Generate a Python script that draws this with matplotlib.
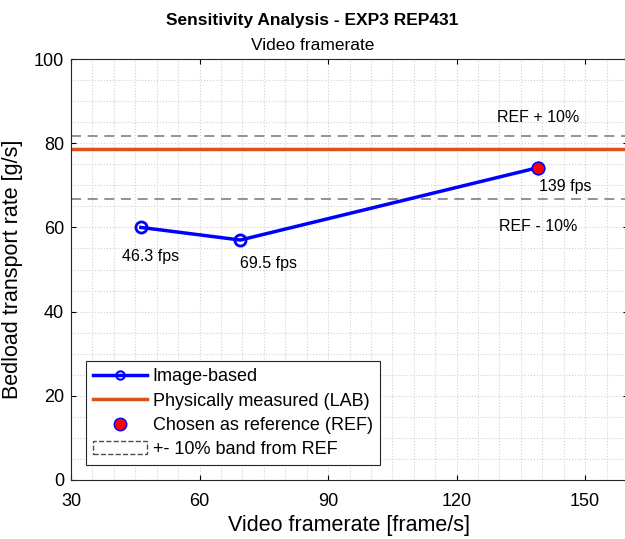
import matplotlib
matplotlib.use('Agg')
from matplotlib import pyplot as plt
from matplotlib.lines import Line2D
from matplotlib.patches import Patch
from matplotlib.ticker import MultipleLocator

# data
framerates = [46.3, 69.5, 139]
rates = [60.0, 57.0, 74.2]
point_labels = ['46.3 fps', '69.5 fps', '139 fps']
lab_rate = 78.6
ref_rate = 74.2
band = 0.10

blue = (0, 0, 1)
orange = (0.85, 0.325, 0.098)
gray = (0.5, 0.5, 0.5)

plt.rcParams['font.family'] = ['Liberation Sans', 'DejaVu Sans']

fig = plt.figure(figsize=(6.25, 5.39), dpi=100)
ax = fig.add_axes((71 / 625, 59 / 539, 557 / 625, 421 / 539))

ax.axhline(ref_rate * (1 + band), color=gray, lw=1.2, ls=(0, (6, 4)))
ax.axhline(ref_rate * (1 - band), color=gray, lw=1.2, ls=(0, (6, 4)))
ax.axhline(lab_rate, color=orange, lw=2.5)
ax.plot(framerates, rates, color=blue, lw=2.5, marker='o', ms=8,
        mfc='none', mec=blue, mew=2)
ax.plot([framerates[-1]], [ref_rate], 'o', ms=9, mfc='red', mec=blue, mew=1)

# point labels
ax.text(framerates[0] - 4.5, rates[0] - 7, point_labels[0], fontsize=11.5, va='center')
ax.text(framerates[1], rates[1] - 5.5, point_labels[1], fontsize=11.5, va='center')
ax.text(framerates[2] + 0.3, ref_rate - 4.5, point_labels[2], fontsize=11.5, va='center')
ax.text(139, ref_rate * (1 + band) + 4.5, 'REF + 10%', fontsize=11.5, ha='center', va='center')
ax.text(139, ref_rate * (1 - band) - 6.5, 'REF - 10%', fontsize=11.5, ha='center', va='center')

ax.set_xlim(30, 160)
ax.set_ylim(0, 100)
ax.set_xticks([30, 60, 90, 120, 150])
ax.set_yticks([0, 20, 40, 60, 80, 100])
ax.xaxis.set_minor_locator(MultipleLocator(5))
ax.yaxis.set_minor_locator(MultipleLocator(5))
ax.grid(which='both', color=(0.82, 0.82, 0.82), ls=':', lw=0.8)
ax.set_axisbelow(True)
ax.tick_params(which='both', direction='in', top=True, right=True, labelsize=13)
ax.tick_params(axis='x', pad=9)
ax.tick_params(axis='y', pad=5)
ax.tick_params(which='minor', length=0)
for s in ax.spines.values():
    s.set_color((0.15, 0.15, 0.15))

ax.set_xlabel('Video framerate [frame/s]', fontsize=15.5, labelpad=4)
ax.set_ylabel('Bedload transport rate [g/s]', fontsize=15.5, labelpad=8)
fig.text(0.5, 0.962, 'Sensitivity Analysis - EXP3 REP431', ha='center',
         va='center', fontsize=12.5, fontweight='bold')
fig.text(0.5, 0.916, 'Video framerate', ha='center', va='center', fontsize=12.5)

handles = [
    Line2D([], [], color=blue, lw=2.5, marker='o', ms=6, mfc='none', mec=blue, mew=1.5),
    Line2D([], [], color=orange, lw=2.5),
    Line2D([], [], ls='none', marker='o', ms=9, mfc='red', mec=blue, mew=1),
    Patch(facecolor='none', edgecolor=(0.3, 0.3, 0.3), ls='--', lw=1),
]
labels = ['Image-based', 'Physically measured (LAB)', 'Chosen as reference (REF)',
          '+- 10% band from REF']
leg = ax.legend(handles, labels, loc='lower left', bbox_to_anchor=(0.027, 0.035),
                fontsize=13, fancybox=False, framealpha=1, edgecolor=(0.15, 0.15, 0.15),
                handlelength=3.0, handletextpad=0.3, labelspacing=0.4, borderpad=0.4,
                borderaxespad=0)
leg.get_frame().set_linewidth(0.8)

fig.savefig('out.png', dpi=100)
